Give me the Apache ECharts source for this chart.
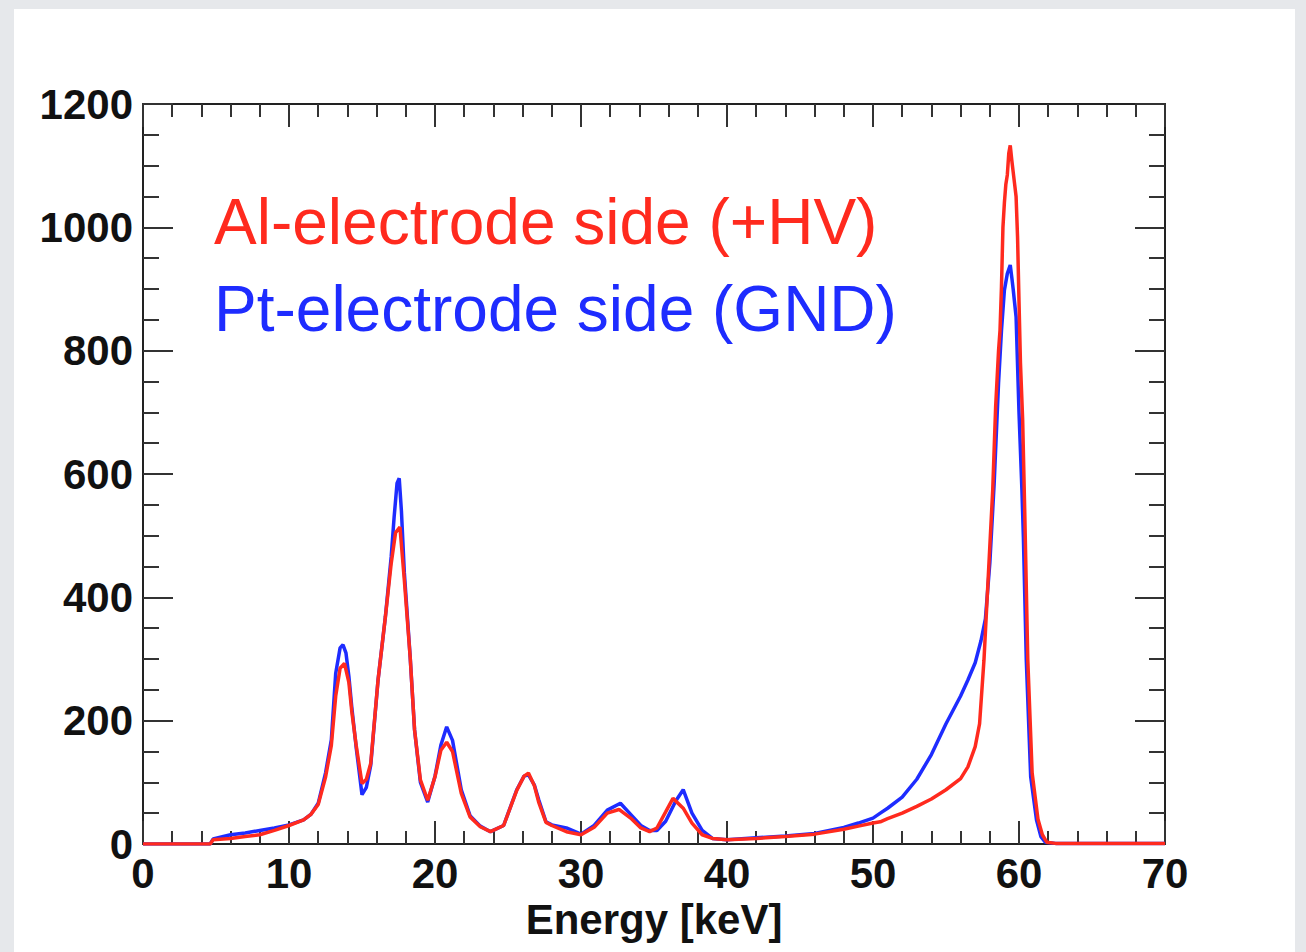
<!DOCTYPE html>
<html>
<head>
<meta charset="utf-8">
<script src="https://cdn.jsdelivr.net/npm/echarts@6/dist/echarts.min.js"></script>
<style>
  html, body { margin: 0; padding: 0; width: 1306px; height: 952px; background: #e6e8eb; overflow: hidden; }
  #card { position: absolute; left: 14px; top: 9px; width: 1281px; height: 943px; background: #ffffff; }
  #chart { position: absolute; left: 0; top: 0; width: 1306px; height: 952px; }
</style>
</head>
<body>
<div id="card"></div>
<div id="chart"></div>
<script>
// ---- data (energy in keV, counts) ----
const redName = 'Al-electrode side (+HV)';
const blueName = 'Pt-electrode side (GND)';

const redE = [0, 4.6, 4.8, 6, 7, 8, 9, 10, 11, 11.5, 12, 12.5, 12.9, 13.2, 13.5, 13.8, 14.1, 14.3, 14.6, 15.0, 15.3, 15.6, 16.1, 16.6, 17.0, 17.3, 17.6, 17.9, 18.3, 18.6, 19.0, 19.5, 20.0, 20.4, 20.8, 21.2, 21.8, 22.4, 23.1, 23.8, 24.7, 25.6, 26.1, 26.4, 26.8, 27.1, 27.6, 28.0, 29.0, 30.0, 30.9, 31.8, 32.6, 33.4, 34.1, 34.7, 35.2, 35.8, 36.3, 37.0, 37.6, 38.3, 39.0, 40, 42, 44, 46, 48, 49, 50, 50.5, 51, 52, 53, 54, 55, 56, 56.5, 57, 57.3, 57.6, 57.8, 58.0, 58.2, 58.4, 58.6, 58.7, 58.8, 58.9, 59.0, 59.1, 59.2, 59.3, 59.4, 59.5, 59.6, 59.7, 59.8, 59.9, 60.0, 60.1, 60.25, 60.4, 60.6, 60.9, 61.3, 61.6, 61.9, 62.5, 70];
const redV = [0, 0, 7, 9, 12, 15, 22, 30, 39, 48, 64, 108, 160, 240, 285, 293, 262, 215, 160, 98, 105, 131, 266, 368, 455, 505, 514, 428, 303, 185, 104, 71, 109, 152, 165, 150, 82, 44, 28, 20, 30, 87, 110, 115, 95, 68, 35, 30, 20, 15, 27, 50, 56, 42, 26, 20, 26, 52, 74, 58, 34, 15, 9, 7, 9, 12, 16, 24, 29, 34, 36, 41, 50, 61, 73, 88, 106, 125, 158, 195, 298, 390, 482, 574, 709, 800, 833, 904, 1000, 1040, 1070, 1085, 1120, 1133, 1110, 1090, 1070, 1050, 985, 880, 780, 688, 531, 300, 115, 40, 15, 3, 1, 1];

const blueE = [0, 4.6, 4.8, 6, 7, 8, 9, 10, 11, 11.5, 12, 12.5, 12.9, 13.2, 13.5, 13.7, 13.9, 14.1, 14.3, 14.6, 15.0, 15.3, 15.6, 16.1, 16.6, 17.0, 17.2, 17.4, 17.55, 17.7, 17.9, 18.3, 18.6, 19.0, 19.5, 20.0, 20.4, 20.8, 21.2, 21.8, 22.4, 23.1, 23.8, 24.7, 25.6, 26.1, 26.4, 26.8, 27.1, 27.6, 28.0, 29.0, 30.0, 30.9, 31.8, 32.7, 33.4, 34.1, 34.7, 35.2, 35.8, 36.5, 37.0, 37.6, 38.3, 39.0, 40, 42, 44, 46, 48, 49, 50, 50.5, 51, 52, 53, 54, 55, 56, 56.5, 57, 57.4, 57.7, 58.0, 58.3, 58.6, 58.8, 59.0, 59.2, 59.4, 59.5, 59.6, 59.8, 60.0, 60.2, 60.3, 60.5, 60.8, 61.2, 61.5, 61.8, 62.5, 70];
const blueV = [0, 0, 8, 15, 18, 22, 26, 31, 39, 48, 66, 115, 169, 277, 318, 323, 310, 272, 222, 157, 80, 92, 128, 266, 368, 466, 530, 585, 593, 540, 440, 303, 185, 100, 68, 110, 160, 190, 168, 88, 46, 29, 20, 30, 88, 110, 112, 96, 72, 36, 31, 26, 16, 30, 55, 66, 48, 30, 22, 22, 37, 70, 88, 50, 22, 9, 7, 10, 13, 17, 27, 34, 42, 50, 58, 76, 105, 145, 195, 240, 266, 294, 330, 365, 455, 585, 748, 833, 898, 925, 939, 920, 900, 855, 700, 574, 498, 298, 109, 39, 12, 3, 1, 1];

const xTicks = [0, 10, 20, 30, 40, 50, 60, 70];
const yTicks = [0, 200, 400, 600, 800, 1000, 1200];
const xTitle = 'Energy [keV]';

const redColor = '#ff2a1e';
const blueColor = '#1e2cff';

const pairs = (xs, ys) => xs.map((x, i) => [x, ys[i]]);

const chart = echarts.init(document.getElementById('chart'), null, { renderer: 'svg' });

const tickStyle = { color: '#333', width: 2 };
const labelFont = { fontFamily: 'Liberation Sans, Arial, sans-serif', fontWeight: 'bold', fontSize: 42, color: '#111' };

function xAxisCfg(pos, showLabel) {
  return {
    type: 'value', position: pos, min: xTicks[0], max: xTicks[xTicks.length - 1],
    interval: xTicks[1] - xTicks[0],
    name: showLabel ? xTitle : '', nameLocation: 'middle', nameGap: 52,
    nameTextStyle: labelFont,
    axisLine: { show: true, onZero: false, lineStyle: { color: '#222', width: 2 } },
    axisTick: { show: true, inside: true, length: 23, lineStyle: tickStyle },
    minorTick: { show: true, splitNumber: 5, length: 13, lineStyle: tickStyle },
    axisLabel: { show: showLabel, margin: 8, formatter: v => String(v), ...labelFont },
    splitLine: { show: false }, minorSplitLine: { show: false }
  };
}
function yAxisCfg(pos, showLabel) {
  return {
    type: 'value', position: pos, min: yTicks[0], max: yTicks[yTicks.length - 1],
    interval: yTicks[1] - yTicks[0],
    axisLine: { show: true, onZero: false, lineStyle: { color: '#222', width: 2 } },
    axisTick: { show: true, inside: true, length: 30, lineStyle: tickStyle },
    minorTick: { show: true, splitNumber: 4, length: 16, lineStyle: tickStyle },
    axisLabel: { show: showLabel, margin: 10, formatter: v => String(v), ...labelFont },
    splitLine: { show: false }, minorSplitLine: { show: false }
  };
}

chart.setOption({
  animation: false,
  backgroundColor: 'transparent',
  grid: { left: 143, right: 141, top: 104, bottom: 108, containLabel: false },
  xAxis: [xAxisCfg('bottom', true), xAxisCfg('top', false)],
  yAxis: [yAxisCfg('left', true), yAxisCfg('right', false)],
  graphic: [
    { type: 'text', left: 214, top: 190, style: { text: redName, fill: redColor, font: '64px "Liberation Sans", Arial, sans-serif' } },
    { type: 'text', left: 214, top: 277, style: { text: blueName, fill: blueColor, font: '64px "Liberation Sans", Arial, sans-serif' } }
  ],
  series: [
    { name: blueName, type: 'line', xAxisIndex: 0, yAxisIndex: 0, data: pairs(blueE, blueV), showSymbol: false, lineStyle: { color: blueColor, width: 3.5 }, z: 2 },
    { name: redName, type: 'line', xAxisIndex: 0, yAxisIndex: 0, data: pairs(redE, redV), showSymbol: false, lineStyle: { color: redColor, width: 3.5 }, z: 3 }
  ]
});
</script>
</body>
</html>
